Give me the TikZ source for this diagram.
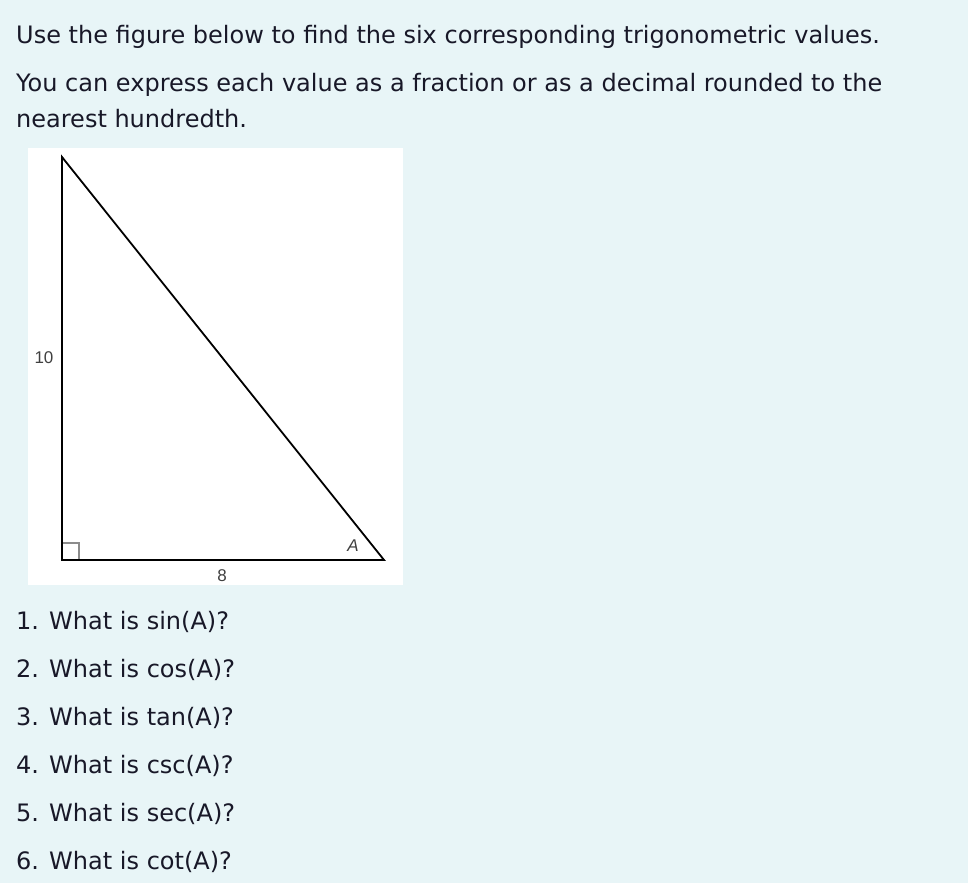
\documentclass[tikz,border=0pt]{standalone}
\usepackage{fontspec}
\setmainfont{DejaVu Sans}
\newfontfamily\figfont{Liberation Sans}
\usetikzlibrary{calc}
\definecolor{pagebg}{RGB}{232,245,247}
\definecolor{ink}{RGB}{24,24,40}
\definecolor{labelgray}{RGB}{64,64,64}
\definecolor{markgray}{RGB}{140,140,140}

\begin{document}
\begin{tikzpicture}[x=1pt,y=-1pt,
    question/.style={anchor=base west,inner sep=0pt,text=ink,font=\fontsize{24}{28}\selectfont},
    sidelabel/.style={inner sep=0pt,text=labelgray,font=\figfont\fontsize{17}{20}\selectfont}]
    \fill[pagebg] (0,0) rectangle (968,883);
    \useasboundingbox (0,0) rectangle (968,883);
    % heading
    \node[question] (intro) at (16,44) {Use the figure below to find the six corresponding trigonometric values.};
    \node[question] (hintA) at (16,91) {You can express each value as a fraction or as a decimal rounded to the};
    \node[question] (hintB) at (16,127) {nearest hundredth.};
    % figure
    \fill[white] (28,148) rectangle (403,585);
    \coordinate (T) at (62,157);
    \coordinate (C) at (62,560);
    \coordinate (A) at (384,560);
    \draw[markgray,line width=1.2pt] ($(C)+(0,-17)$) -- ($(C)+(17,-17)$) -- ($(C)+(17,0)$);
    \draw[line width=1.8pt,line join=miter] (T)--(C)--(A)--cycle;
    \node[sidelabel] (legB) at (44,358) {10};
    \node[sidelabel] (legA) at (222,576) {8};
    \node[sidelabel,font=\figfont\itshape\fontsize{17}{20}\selectfont] (angA) at (353,546) {A};
    % questions
    \node[question] (q1) at (16,629) {1. What is sin(A)?};
    \node[question] (q2) at (16,677) {2. What is cos(A)?};
    \node[question] (q3) at (16,725) {3. What is tan(A)?};
    \node[question] (q4) at (16,773) {4. What is csc(A)?};
    \node[question] (q5) at (16,821) {5. What is sec(A)?};
    \node[question] (q6) at (16,869) {6. What is cot(A)?};
\end{tikzpicture}
\end{document}
